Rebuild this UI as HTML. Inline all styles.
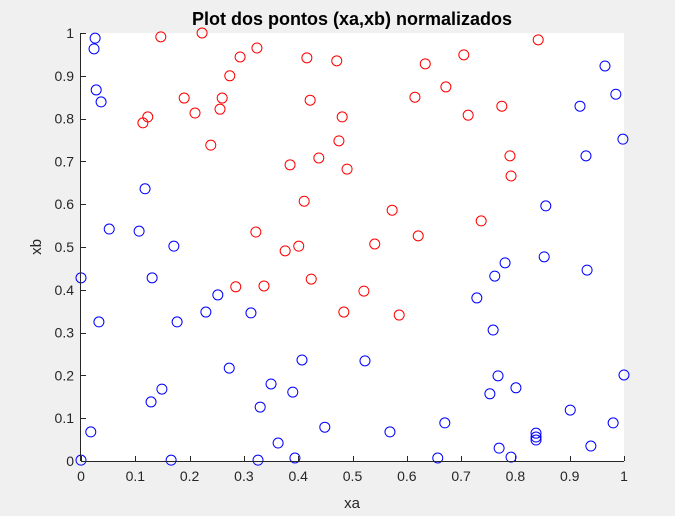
<!DOCTYPE html>
<html><head><meta charset="utf-8"><style>
html,body{margin:0;padding:0;background:#f0f0f0;}
svg{display:block;font-family:"Liberation Sans",sans-serif;}
</style></head><body>
<svg id="chart" width="675" height="516">
<rect x="0" y="0" width="675" height="516" fill="#f0f0f0"/>
<rect x="81" y="33" width="543" height="428" fill="#ffffff"/>
<text x="352" y="25" text-anchor="middle" font-size="18" font-weight="bold" fill="#000">Plot dos pontos (xa,xb) normalizados</text>
<text x="352" y="508" text-anchor="middle" font-size="15" fill="#262626">xa</text>
<text x="41" y="247" text-anchor="middle" font-size="15" fill="#262626" transform="rotate(-90 41 247)">xb</text>
<g id="marks"></g>
<g id="axes"></g>
</svg>
<script>
const xTicks = [0,0.1,0.2,0.3,0.4,0.5,0.6,0.7,0.8,0.9,1];
const xTickLabels = ["0","0.1","0.2","0.3","0.4","0.5","0.6","0.7","0.8","0.9","1"];
const yTicks = [0,0.1,0.2,0.3,0.4,0.5,0.6,0.7,0.8,0.9,1];
const yTickLabels = ["0","0.1","0.2","0.3","0.4","0.5","0.6","0.7","0.8","0.9","1"];
const redX = [0.147,0.223,0.293,0.324,0.274,0.190,0.260,0.256,0.210,0.416,0.471,0.422,0.481,0.475,0.438,0.490,0.385,0.411,0.322,0.401,0.376,0.123,0.114,0.239,0.842,0.705,0.634,0.672,0.615,0.775,0.713,0.790,0.792,0.573,0.737,0.621,0.541,0.424,0.285,0.337,0.484,0.521,0.586];
const redY = [0.991,1.0,0.944,0.965,0.900,0.848,0.848,0.822,0.813,0.942,0.935,0.843,0.804,0.748,0.708,0.682,0.692,0.607,0.535,0.502,0.491,0.804,0.790,0.738,0.984,0.949,0.928,0.874,0.850,0.829,0.808,0.713,0.666,0.586,0.561,0.526,0.507,0.425,0.407,0.409,0.348,0.397,0.341];
const blueX = [0.026,0.024,0.028,0.037,0.118,0.052,0.107,0.171,0.965,0.985,0.919,0.998,0.930,0.856,0.853,0.781,0.762,0.932,0.729,0.759,0.523,0.768,0.801,0.753,1.0,0.901,0.670,0.569,0.980,0.838,0.838,0.838,0.770,0.939,0.657,0.792,0,0.131,0.252,0.230,0.313,0.033,0.177,0.273,0.149,0.129,0.350,0.390,0.330,0.407,0.018,0.449,0.363,0,0.166,0.326,0.394];
const blueY = [0.988,0.963,0.867,0.839,0.636,0.542,0.537,0.502,0.923,0.857,0.829,0.752,0.713,0.596,0.477,0.463,0.432,0.446,0.381,0.306,0.234,0.199,0.171,0.157,0.201,0.119,0.089,0.068,0.089,0.065,0.056,0.049,0.030,0.035,0.007,0.009,0.428,0.428,0.388,0.348,0.346,0.325,0.325,0.217,0.168,0.138,0.180,0.161,0.126,0.236,0.068,0.079,0.042,0.002,0.002,0.002,0.007];

const X0=81, X1=624, Y0=461, Y1=33;
function sx(v){return X0+v*(X1-X0);}
function sy(v){return Y0-v*(Y0-Y1);}
const NS="http://www.w3.org/2000/svg";
const marks=document.getElementById('marks');
const axes=document.getElementById('axes');
function drawSeries(xs,ys,color,name){
  for(let i=0;i<xs.length;i++){
    const c=document.createElementNS(NS,'circle');
    c.setAttribute('cx',sx(xs[i]));
    c.setAttribute('cy',sy(ys[i]));
    c.setAttribute('r',5);
    c.setAttribute('fill','none');
    c.setAttribute('stroke',color);
    c.setAttribute('stroke-width',1);
    
    
    marks.appendChild(c);
  }
}
drawSeries(redX,redY,'#ff0000','red-point');
drawSeries(blueX,blueY,'#0000ff','blue-point');

function line(x1,y1,x2,y2){
  const l=document.createElementNS(NS,'line');
  l.setAttribute('x1',x1);l.setAttribute('y1',y1);l.setAttribute('x2',x2);l.setAttribute('y2',y2);
  l.setAttribute('stroke','#262626');l.setAttribute('stroke-width',1);
  return l;
}
const xa=line(X0,Y0+0.5,X1,Y0+0.5);


axes.appendChild(xa);
const ya=line(X0-0.5,Y0,X0-0.5,Y1);


axes.appendChild(ya);
for(let i=0;i<xTicks.length;i++){
  const x=Math.round(sx(xTicks[i]))+0.5;
  const t=line(x,Y0,x,Y0-5);
  
  
  axes.appendChild(t);
  const lb=document.createElementNS(NS,'text');
  lb.setAttribute('x',sx(xTicks[i]));lb.setAttribute('y',Y0+20);
  lb.setAttribute('text-anchor','middle');lb.setAttribute('font-size','14');lb.setAttribute('fill','#262626');
  lb.textContent=xTickLabels[i];
  
  
  axes.appendChild(lb);
}
for(let i=0;i<yTicks.length;i++){
  const y=Math.round(sy(yTicks[i]))+0.5;
  const t=line(X0,y,X0+5,y);
  
  
  axes.appendChild(t);
  const lb=document.createElementNS(NS,'text');
  lb.setAttribute('x',X0-7);lb.setAttribute('y',sy(yTicks[i])+5);
  lb.setAttribute('text-anchor','end');lb.setAttribute('font-size','14');lb.setAttribute('fill','#262626');
  lb.textContent=yTickLabels[i];
  
  
  axes.appendChild(lb);
}
</script>
</body></html>
